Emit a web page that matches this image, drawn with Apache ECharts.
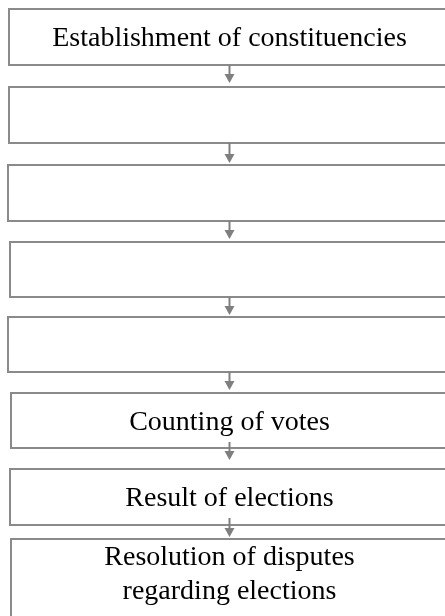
<!DOCTYPE html>
<html>
<head>
<meta charset="utf-8">
<script src="https://cdn.jsdelivr.net/npm/echarts@6/dist/echarts.min.js"></script>
<style>
html,body{margin:0;padding:0;background:#fff;}
#chart{width:445px;height:616px;}
</style>
</head>
<body>
<div id="chart"></div>
<script>
// Flowchart steps (text of each box, top to bottom)
const steps = [
  "Establishment of constituencies",
  "",
  "",
  "",
  "",
  "Counting of votes",
  "Result of elections",
  "Resolution of disputes\nregarding elections"
];
// Links between consecutive steps (from index -> to index)
const linkFrom = [0, 1, 2, 3, 4, 5, 6];
const linkTo   = [1, 2, 3, 4, 5, 6, 7];

// ---- layout (pixel space of the hidden axes) ----
const layout = {
  boxTop:    [9, 87, 165, 242, 317, 393, 469, 539],
  boxBottom: [65, 143, 221, 297, 372, 448, 525, 650],
  boxLeft:   [9, 9, 8, 10, 8, 11, 10, 11],
  boxRight: 458,
  centerX: 229.5,
  textOffset: 2,
  arrowStart: [65, 143, 221, 297, 372, 442, 518],
  arrowTip:   [83, 163, 239, 315, 390, 460, 537],
  lastTextTop: 541
};

const chart = echarts.init(document.getElementById('chart'), null, {renderer: 'canvas'});

const option = {
  animation: false,
  backgroundColor: '#ffffff',
  grid: {left: 0, right: 0, top: 0, bottom: 0},
  xAxis: {type: 'value', min: 0, max: 445, show: false},
  yAxis: {type: 'value', min: 0, max: 616, inverse: true, show: false},
  series: [
    {
      type: 'custom',
      coordinateSystem: 'cartesian2d',
      clip: false,
      data: steps.map((s, i) => [i]),
      renderItem: function (params, api) {
        const i = api.value(0);
        const p0 = api.coord([layout.boxLeft[i], layout.boxTop[i]]);
        const p1 = api.coord([layout.boxRight, layout.boxBottom[i]]);
        const c = api.coord([layout.centerX, (layout.boxTop[i] + layout.boxBottom[i]) / 2 + layout.textOffset]);
        const children = [{
          type: 'rect',
          shape: {x: p0[0], y: p0[1], width: p1[0] - p0[0], height: p1[1] - p0[1]},
          style: {fill: '#ffffff', stroke: '#8a8a8a', lineWidth: 2}
        }];
        if (steps[i]) {
          const last = i === steps.length - 1;
          const ty = last ? api.coord([0, layout.lastTextTop])[1] : c[1];
          children.push({
            type: 'text',
            style: {
              text: steps[i],
              x: c[0],
              y: ty,
              align: 'center',
              verticalAlign: last ? 'top' : 'middle',
              fontFamily: '"Liberation Serif", "Times New Roman", serif',
              fontSize: 28,
              lineHeight: 34,
              fill: '#000000'
            }
          });
        }
        return {type: 'group', children: children};
      },
      z: 1
    },
    {
      type: 'custom',
      coordinateSystem: 'cartesian2d',
      clip: false,
      data: linkFrom.map((f, k) => [f, linkTo[k]]),
      renderItem: function (params, api) {
        const k = params.dataIndex;
        const s = api.coord([layout.centerX, layout.arrowStart[k]]);
        const t = api.coord([layout.centerX, layout.arrowTip[k]]);
        const headH = 9, headW = 5;
        return {
          type: 'group',
          children: [
            {
              type: 'line',
              shape: {x1: s[0], y1: s[1], x2: t[0], y2: t[1] - headH + 1},
              style: {stroke: '#7f7f7f', lineWidth: 2}
            },
            {
              type: 'polygon',
              shape: {points: [[t[0] - headW, t[1] - headH], [t[0] + headW, t[1] - headH], [t[0], t[1]]]},
              style: {fill: '#7f7f7f'}
            }
          ]
        };
      },
      z: 2
    }
  ]
};

chart.setOption(option);
</script>
</body>
</html>
